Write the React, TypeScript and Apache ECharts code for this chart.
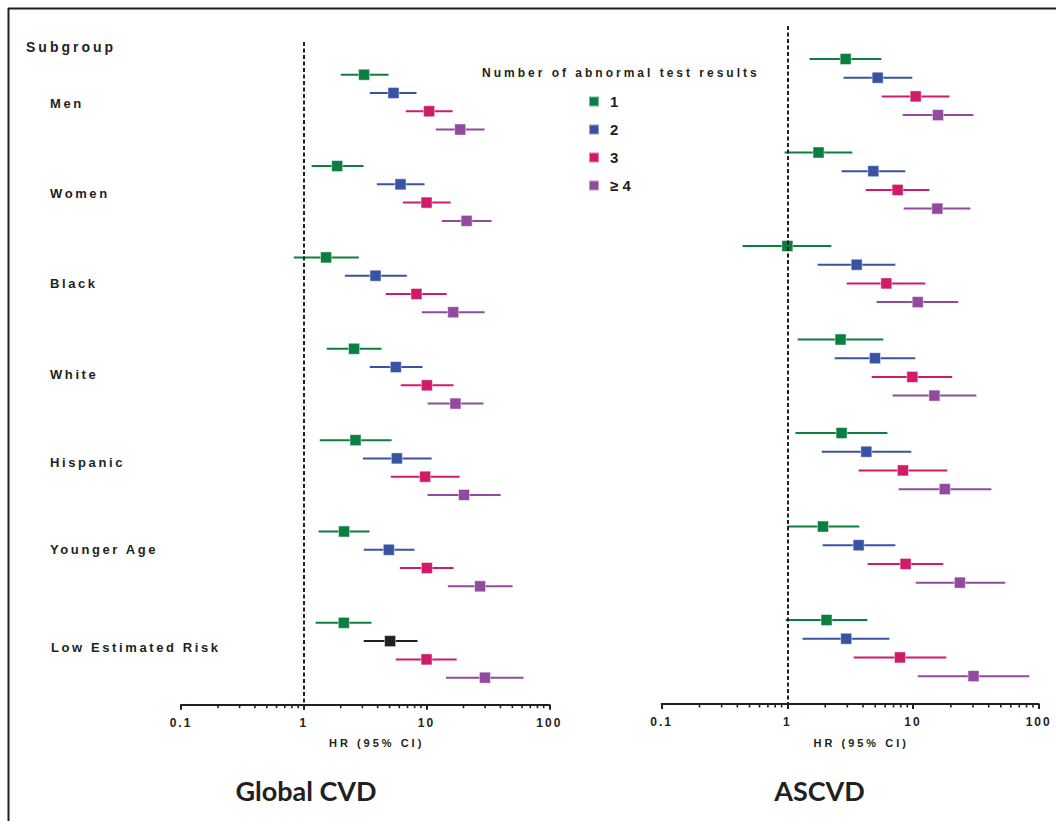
import React, { useEffect, useRef } from "react";
import * as echarts from "echarts";

// ---------- data ----------
const subgroups = ["Men", "Women", "Black", "White", "Hispanic", "Younger Age", "Low Estimated Risk"];
const levels = ["1", "2", "3", "≥ 4"];
const xTicks = [0.1, 1, 10, 100];
const tickLabels = ["0.1", "1", "10", "100"];
const minorTicks = [0.2, 0.3, 0.4, 0.5, 0.6, 0.7, 0.8, 0.9, 2, 3, 4, 5, 6, 7, 8, 9, 20, 30, 40, 50, 60, 70, 80, 90];
const panelTitles = ["Global CVD", "ASCVD"];

// [HR, lower 95% CI, upper 95% CI] per subgroup
const globalL1 = [[3.1, 2.0, 4.9], [1.87, 1.16, 3.07], [1.52, 0.83, 2.81], [2.57, 1.54, 4.3], [2.64, 1.35, 5.19], [2.13, 1.32, 3.43], [2.12, 1.25, 3.56]];
const globalL2 = [[5.38, 3.45, 8.29], [6.14, 3.94, 9.63], [3.84, 2.16, 6.91], [5.62, 3.45, 9.28], [5.73, 3.03, 11.0], [4.93, 3.08, 7.98], [5.05, 3.08, 8.45]];
const globalL3 = [[10.5, 6.78, 16.3], [10.0, 6.41, 15.7], [8.28, 4.66, 14.6], [10.06, 6.17, 16.6], [9.74, 5.12, 18.6], [10.06, 6.06, 16.6], [10.0, 5.62, 17.6]];
const globalL4 = [[18.8, 11.9, 29.7], [21.2, 13.3, 33.9], [16.5, 9.16, 29.7], [17.2, 10.2, 29.1], [20.2, 10.2, 40.1], [27.3, 14.9, 50.2], [29.9, 14.4, 61.7]];

const ascvdL1 = [[2.91, 1.5, 5.6], [1.77, 0.95, 3.29], [1.0, 0.44, 2.24], [2.65, 1.21, 5.8], [2.7, 1.16, 6.25], [1.92, 1.0, 3.74], [2.05, 0.97, 4.33]];
const ascvdL2 = [[5.23, 2.8, 9.87], [4.83, 2.7, 8.69], [3.56, 1.74, 7.23], [4.98, 2.38, 10.4], [4.25, 1.88, 9.69], [3.69, 1.91, 7.23], [2.94, 1.32, 6.48]];
const ascvdL3 = [[10.5, 5.63, 19.5], [7.54, 4.2, 13.5], [6.13, 2.96, 12.5], [9.87, 4.69, 20.5], [8.31, 3.69, 18.7], [8.73, 4.35, 17.4], [7.87, 3.37, 18.4]];
const ascvdL4 = [[15.8, 8.27, 30.2], [15.6, 8.42, 28.6], [10.9, 5.13, 22.9], [14.8, 6.88, 31.9], [17.9, 7.68, 42.0], [23.6, 10.5, 54.2], [30.3, 10.9, 84.2]];

const panels = [
  [globalL1, globalL2, globalL3, globalL4],
  [ascvdL1, ascvdL2, ascvdL3, ascvdL4],
];

// ---------- style ----------
const INK = "#231f20";
const COLORS = ["#0b7f3f", "#3953a4", "#d01b68", "#924a9f"];
const SPECIAL = { panel: 0, level: 1, group: 6, color: "#231f20" };
const FONT_SUB = "'Liberation Sans', lspA";
const FONT_LBL = "'Liberation Sans', lspB";
const FONT_LEGT = "'Liberation Sans', lspC";
const FONT_TICK = "'Liberation Sans', lspD";
const FONT_NAME = "'Liberation Sans', lspE";
const CSS = `
.fp text[style*="lspA"]{letter-spacing:3px}
.fp text[style*="lspB"]{letter-spacing:2.6px}
.fp text[style*="lspC"]{letter-spacing:3px}
.fp text[style*="lspD"]{letter-spacing:2px}
.fp text[style*="lspE"]{letter-spacing:3px}
`;

const grids = [
  { left: 181, right: 506.7, top: 42, bottom: 116.3 },
  { left: 661.7, right: 17.3, top: 26, bottom: 117 },
];
const yRanges = [
  [-1.79, 34.48],
  [-1.765, 34.49],
];
const labelPos = [103, 193, 283, 374, 462, 549, 647];
const titleCenters = [306, 819.5];
const nameShift = [23, 22];

export default function App() {
  const ref = useRef<HTMLDivElement>(null);

  useEffect(() => {
    if (!ref.current) return;
    const chart = echarts.init(ref.current, null, { renderer: "svg" });

    const series: any[] = [];
    panels.forEach((panel, p) => {
      panel.forEach((rows, j) => {
        const items = rows.map((r, g) => {
          const special = SPECIAL.panel === p && SPECIAL.level === j && SPECIAL.group === g;
          return {
            value: [r[0], r[1], r[2], g * 5 + j],
            itemStyle: special ? { color: SPECIAL.color } : undefined,
          };
        });
        series.push({
          type: "custom",
          name: `${levels[j]} CI ${p}`,
          xAxisIndex: p,
          yAxisIndex: p,
          z: 2,
          silent: true,
          itemStyle: { color: COLORS[j] },
          data: items,
          renderItem: (params: any, api: any) => {
            const a = api.coord([api.value(1), api.value(3)]);
            const b = api.coord([api.value(2), api.value(3)]);
            return {
              type: "line",
              shape: { x1: a[0], y1: a[1], x2: b[0], y2: b[1] },
              style: { stroke: api.visual("color"), lineWidth: 2 },
            };
          },
        });
        series.push({
          type: "scatter",
          name: levels[j],
          xAxisIndex: p,
          yAxisIndex: p,
          z: 3,
          silent: true,
          symbol: "rect",
          symbolSize: 11,
          itemStyle: { color: COLORS[j], borderColor: "rgba(255,255,255,0.45)", borderWidth: 1, opacity: 1 },
          data: items.map((it) => ({ value: [it.value[0], it.value[3]], itemStyle: it.itemStyle })),
        });
      });
      // minor ticks
      series.push({
        type: "custom",
        name: `minor ${p}`,
        xAxisIndex: p,
        yAxisIndex: p,
        silent: true,
        z: 4,
        data: minorTicks.map((v) => [v, yRanges[p][1]]),
        renderItem: (params: any, api: any) => {
          const c = api.coord([api.value(0), api.value(1)]);
          return {
            type: "line",
            shape: { x1: c[0], y1: c[1], x2: c[0], y2: c[1] + 3.5 },
            style: { stroke: INK, lineWidth: 1.6 },
          };
        },
      });
      // reference line at HR = 1
      series.push({
        type: "line",
        name: `ref ${p}`,
        xAxisIndex: p,
        yAxisIndex: p,
        z: 5,
        data: [],
        silent: true,
        markLine: {
          silent: true,
          symbol: "none",
          label: { show: false },
          lineStyle: { color: INK, width: 2, type: [4, 2.5] },
          data: [{ xAxis: 1 }],
        },
      });
    });

    const graphics: any[] = [
      { type: "line", shape: { x1: 8.5, y1: 8, x2: 8.5, y2: 821 }, style: { stroke: INK, lineWidth: 2 } },
      { type: "line", shape: { x1: 8, y1: 8.5, x2: 1056, y2: 8.5 }, style: { stroke: INK, lineWidth: 2 } },
      {
        type: "text",
        x: 26,
        y: 47,
        style: { text: "Subgroup", font: `bold 14px ${FONT_SUB}`, fill: INK, textVerticalAlign: "middle" },
      },
      {
        type: "text",
        x: 482,
        y: 73,
        style: { text: "Number of abnormal test results", font: `bold 12px ${FONT_LEGT}`, fill: INK, textVerticalAlign: "middle" },
      },
      ...subgroups.map((s, i) => ({
        type: "text",
        x: i === 6 ? 51 : 50,
        y: labelPos[i],
        style: { text: s, font: `bold 13px ${FONT_LBL}`, fill: INK, textVerticalAlign: "middle" },
      })),
      ...panelTitles.map((t, i) => ({
        type: "text",
        x: titleCenters[i],
        y: 790,
        style: { text: t, font: "bold 27px Lato", fill: INK, textAlign: "center", textVerticalAlign: "middle" },
      })),
    ];

    const option: any = {
      animation: false,
      backgroundColor: "#ffffff",
      grid: grids.map((g) => ({ ...g, containLabel: false })),
      xAxis: grids.map((_, i) => ({
        type: "log",
        logBase: 10,
        min: 0.1,
        max: 100,
        interval: 1,
        gridIndex: i,
        name: "HR (95% CI)",
        nameLocation: "middle",
        nameGap: 33,
        nameTextStyle: { fontFamily: FONT_NAME, fontWeight: "bold", fontSize: 11, color: INK, padding: [0, 0, 0, nameShift[i]] },
        axisLine: { show: true, onZero: false, lineStyle: { color: INK, width: 2 } },
        axisTick: { show: true, length: 5, lineStyle: { color: INK, width: 2 } },
        axisLabel: {
          margin: 12,
          fontFamily: FONT_TICK,
          fontWeight: "bold",
          fontSize: 12,
          color: INK,
          formatter: (v: number) => {
            const k = xTicks.findIndex((t) => Math.abs(Math.log10(t) - Math.log10(v)) < 1e-6);
            return k >= 0 ? tickLabels[k] : "";
          },
        },
        splitLine: { show: false },
        minorTick: { show: false },
      })),
      yAxis: grids.map((_, i) => ({
        type: "value",
        gridIndex: i,
        inverse: true,
        min: yRanges[i][0],
        max: yRanges[i][1],
        show: false,
        splitLine: { show: false },
      })),
      legend: {
        data: levels,
        orient: "vertical",
        left: 583,
        top: 89,
        itemWidth: 10,
        itemHeight: 10,
        itemGap: 13,
        icon: "rect",
        selectedMode: false,
        textStyle: { fontSize: 15, fontWeight: "bold", fontFamily: "'Liberation Sans'", color: INK, padding: [0, 0, 0, 6] },
      },
      graphic: graphics,
      series,
    };

    chart.setOption(option);
    return () => chart.dispose();
  }, []);

  return (
    <div style={{ position: "absolute", left: 0, top: 0, width: 1056, height: 821, background: "#fff" }}>
      <style>{CSS}</style>
      <div ref={ref} className="fp" style={{ width: 1056, height: 821 }} />
    </div>
  );
}
